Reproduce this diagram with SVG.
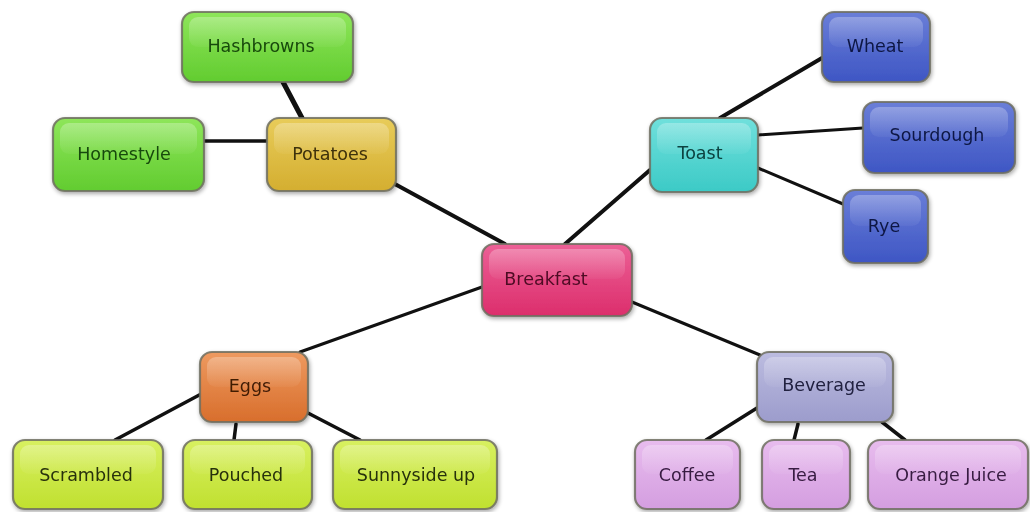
<svg xmlns="http://www.w3.org/2000/svg" width="1030" height="512" viewBox="0 0 1030 512">
<defs>
<filter id="sh" x="-20%" y="-20%" width="140%" height="150%"><feGaussianBlur in="SourceAlpha" stdDeviation="2"/><feOffset dx="1" dy="2"/><feComponentTransfer><feFuncA type="linear" slope="0.35"/></feComponentTransfer><feMerge><feMergeNode/><feMergeNode in="SourceGraphic"/></feMerge></filter>
<linearGradient id="gloss" x1="0" y1="0" x2="0" y2="1"><stop offset="0" stop-color="#fff" stop-opacity="0.28"/><stop offset="1" stop-color="#fff" stop-opacity="0.04"/></linearGradient>
<linearGradient id="gGreen" x1="0" y1="0" x2="0" y2="1"><stop offset="0" stop-color="#8ee65a"/><stop offset="1" stop-color="#62cc30"/></linearGradient>
<linearGradient id="gGold" x1="0" y1="0" x2="0" y2="1"><stop offset="0" stop-color="#e8cc5a"/><stop offset="1" stop-color="#d4ae30"/></linearGradient>
<linearGradient id="gPink" x1="0" y1="0" x2="0" y2="1"><stop offset="0" stop-color="#ec6096"/><stop offset="1" stop-color="#dc2e6c"/></linearGradient>
<linearGradient id="gCyan" x1="0" y1="0" x2="0" y2="1"><stop offset="0" stop-color="#70e0dc"/><stop offset="1" stop-color="#3ccac6"/></linearGradient>
<linearGradient id="gBlue" x1="0" y1="0" x2="0" y2="1"><stop offset="0" stop-color="#6a7ed8"/><stop offset="1" stop-color="#3e56c4"/></linearGradient>
<linearGradient id="gOrange" x1="0" y1="0" x2="0" y2="1"><stop offset="0" stop-color="#ee9a60"/><stop offset="1" stop-color="#d86e2c"/></linearGradient>
<linearGradient id="gLime" x1="0" y1="0" x2="0" y2="1"><stop offset="0" stop-color="#d8f060"/><stop offset="1" stop-color="#c0e030"/></linearGradient>
<linearGradient id="gLav" x1="0" y1="0" x2="0" y2="1"><stop offset="0" stop-color="#bcbce0"/><stop offset="1" stop-color="#9c9ccc"/></linearGradient>
<linearGradient id="gOrchid" x1="0" y1="0" x2="0" y2="1"><stop offset="0" stop-color="#e8bcee"/><stop offset="1" stop-color="#d49ee0"/></linearGradient>
</defs>
<style>
.box{stroke:#6e6e60;stroke-opacity:0.85;stroke-width:2.2}
.gl{fill:url(#gloss)}
.t{font-family:"DejaVu Sans","Liberation Sans",sans-serif;font-size:17.5px;text-anchor:middle}
.c line{stroke:#111;stroke-linecap:round}
</style>
<rect width="1030" height="512" fill="#fff"/>
<g class="c" id="connectors">
<line x1="283" y1="82" x2="302" y2="118" stroke-width="5"/>
<line x1="204" y1="141" x2="267" y2="141" stroke-width="3.5"/>
<line x1="393" y1="183" x2="505" y2="244" stroke-width="4"/>
<line x1="650" y1="170" x2="565" y2="244" stroke-width="4"/>
<line x1="720" y1="118" x2="822" y2="58" stroke-width="4"/>
<line x1="758" y1="135" x2="863" y2="128" stroke-width="3"/>
<line x1="758" y1="168" x2="843" y2="204" stroke-width="3"/>
<line x1="482" y1="287" x2="300" y2="352" stroke-width="3"/>
<line x1="632" y1="302" x2="760" y2="355" stroke-width="3"/>
<line x1="203" y1="393" x2="115" y2="440" stroke-width="3.5"/>
<line x1="236" y1="424" x2="234" y2="440" stroke-width="3.5"/>
<line x1="306" y1="412" x2="360" y2="440" stroke-width="3.5"/>
<line x1="757" y1="408" x2="706" y2="440" stroke-width="3.5"/>
<line x1="798" y1="424" x2="794" y2="440" stroke-width="3.5"/>
<line x1="882" y1="422" x2="905" y2="440" stroke-width="3.5"/>
</g>
<g id="hashbrowns" filter="url(#sh)"><rect class="box" x="182" y="12" width="171" height="70" rx="12" fill="url(#gGreen)"/><rect class="gl" x="189" y="17" width="157" height="30" rx="9"/><text class="t" x="261" y="52" fill="#184a0c">Hashbrowns</text></g>
<g id="homestyle" filter="url(#sh)"><rect class="box" x="53" y="118" width="151" height="73" rx="12" fill="url(#gGreen)"/><rect class="gl" x="60" y="123" width="137" height="31" rx="9"/><text class="t" x="124" y="160" fill="#184a0c">Homestyle</text></g>
<g id="potatoes" filter="url(#sh)"><rect class="box" x="267" y="118" width="129" height="73" rx="12" fill="url(#gGold)"/><rect class="gl" x="274" y="123" width="115" height="31" rx="9"/><text class="t" x="330" y="160" fill="#3e300a">Potatoes</text></g>
<g id="breakfast" filter="url(#sh)"><rect class="box" x="482" y="244" width="150" height="72" rx="12" fill="url(#gPink)"/><rect class="gl" x="489" y="249" width="136" height="30" rx="9"/><text class="t" x="546" y="285" fill="#4e0a24">Breakfast</text></g>
<g id="toast" filter="url(#sh)"><rect class="box" x="650" y="118" width="108" height="74" rx="12" fill="url(#gCyan)"/><rect class="gl" x="657" y="123" width="94" height="31" rx="9"/><text class="t" x="700" y="159" fill="#0c4240">Toast</text></g>
<g id="wheat" filter="url(#sh)"><rect class="box" x="822" y="12" width="108" height="70" rx="12" fill="url(#gBlue)"/><rect class="gl" x="829" y="17" width="94" height="30" rx="9"/><text class="t" x="875" y="52" fill="#0e1844">Wheat</text></g>
<g id="sourdough" filter="url(#sh)"><rect class="box" x="863" y="102" width="152" height="71" rx="12" fill="url(#gBlue)"/><rect class="gl" x="870" y="107" width="138" height="30" rx="9"/><text class="t" x="937" y="141" fill="#0e1844">Sourdough</text></g>
<g id="rye" filter="url(#sh)"><rect class="box" x="843" y="190" width="85" height="73" rx="12" fill="url(#gBlue)"/><rect class="gl" x="850" y="195" width="71" height="31" rx="9"/><text class="t" x="884" y="232" fill="#0e1844">Rye</text></g>
<g id="eggs" filter="url(#sh)"><rect class="box" x="200" y="352" width="108" height="70" rx="12" fill="url(#gOrange)"/><rect class="gl" x="207" y="357" width="94" height="30" rx="9"/><text class="t" x="250" y="392" fill="#401c06">Eggs</text></g>
<g id="scrambled" filter="url(#sh)"><rect class="box" x="13" y="440" width="150" height="69" rx="12" fill="url(#gLime)"/><rect class="gl" x="20" y="445" width="136" height="29" rx="9"/><text class="t" x="86" y="481" fill="#28300c">Scrambled</text></g>
<g id="pouched" filter="url(#sh)"><rect class="box" x="183" y="440" width="129" height="69" rx="12" fill="url(#gLime)"/><rect class="gl" x="190" y="445" width="115" height="29" rx="9"/><text class="t" x="246" y="481" fill="#28300c">Pouched</text></g>
<g id="sunnyside" filter="url(#sh)"><rect class="box" x="333" y="440" width="164" height="69" rx="12" fill="url(#gLime)"/><rect class="gl" x="340" y="445" width="150" height="29" rx="9"/><text class="t" x="416" y="481" fill="#28300c">Sunnyside up</text></g>
<g id="beverage" filter="url(#sh)"><rect class="box" x="757" y="352" width="136" height="70" rx="12" fill="url(#gLav)"/><rect class="gl" x="764" y="357" width="122" height="30" rx="9"/><text class="t" x="824" y="391" fill="#202040">Beverage</text></g>
<g id="coffee" filter="url(#sh)"><rect class="box" x="635" y="440" width="105" height="69" rx="12" fill="url(#gOrchid)"/><rect class="gl" x="642" y="445" width="91" height="29" rx="9"/><text class="t" x="687" y="481" fill="#381c42">Coffee</text></g>
<g id="tea" filter="url(#sh)"><rect class="box" x="762" y="440" width="88" height="69" rx="12" fill="url(#gOrchid)"/><rect class="gl" x="769" y="445" width="74" height="29" rx="9"/><text class="t" x="803" y="481" fill="#381c42">Tea</text></g>
<g id="orangejuice" filter="url(#sh)"><rect class="box" x="868" y="440" width="160" height="69" rx="12" fill="url(#gOrchid)"/><rect class="gl" x="875" y="445" width="146" height="29" rx="9"/><text class="t" x="951" y="481" fill="#381c42">Orange Juice</text></g>
</svg>
